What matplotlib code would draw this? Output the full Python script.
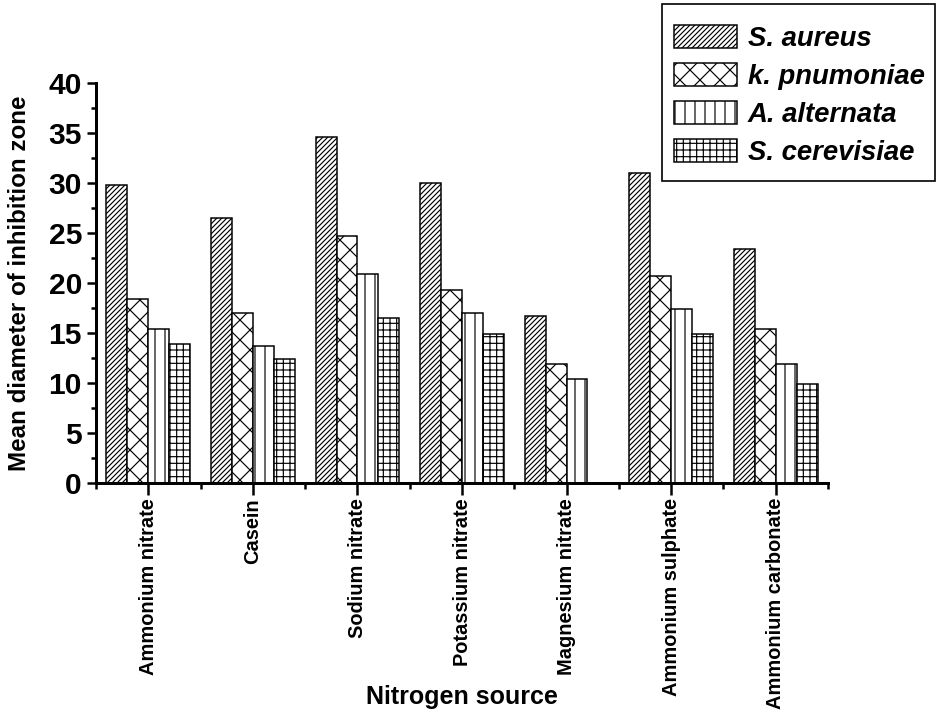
import numpy as np
import matplotlib
matplotlib.use('Agg')
import matplotlib.pyplot as plt
from matplotlib.patches import Rectangle
from matplotlib.ticker import MultipleLocator, FixedLocator

plt.rcParams['font.family'] = ['Liberation Sans', 'DejaVu Sans']
plt.rcParams['font.weight'] = 'bold'
plt.rcParams['hatch.linewidth'] = 0.7

# data
sources = ['Ammonium nitrate', 'Casein', 'Sodium nitrate', 'Potassium nitrate',
           'Magnesium nitrate', 'Ammonium sulphate', 'Ammonium carbonate']
s_aureus = [29.8, 26.5, 34.6, 30.0, 16.7, 31.0, 23.4]
k_pnumoniae = [18.4, 17.0, 24.7, 19.25, 11.9, 20.7, 15.4]
a_alternata = [15.4, 13.7, 20.9, 17.0, 10.4, 17.4, 11.9]
s_cerevisiae = [13.9, 12.4, 16.45, 14.9, 0, 14.9, 9.9]

series = [('S. aureus', s_aureus, '////////'),
          ('k. pnumoniae', k_pnumoniae, 'xx'),
          ('A. alternata', a_alternata, '||'),
          ('S. cerevisiae', s_cerevisiae, '+++')]

W, H = 936, 717
fig = plt.figure(figsize=(W / 120, H / 120), dpi=120)
ax = fig.add_axes([96 / W, 1 - 483 / H, 732 / W, 400.3 / H])

x = np.arange(len(sources))
width = 0.2
for i, (name, vals, hatch) in enumerate(series):
    ax.bar(x + (i - 1.5) * width, vals, width, color='white', edgecolor='black',
           hatch=hatch, linewidth=0.9, label=name)

ax.set_xlim(-0.5, len(sources) - 0.5)
ax.set_ylim(0, 40)

for side in ['top', 'right']:
    ax.spines[side].set_visible(False)
for side in ['left', 'bottom']:
    ax.spines[side].set_linewidth(1.8)

ax.yaxis.set_major_locator(MultipleLocator(5))
ax.yaxis.set_minor_locator(MultipleLocator(2.5))
ax.set_xticks(x)
ax.set_xticklabels(sources, rotation=90, fontsize=12, fontweight='bold')
ax.xaxis.set_minor_locator(FixedLocator(np.arange(-0.5, len(sources), 1.0)))
ax.tick_params(axis='y', which='major', length=5.4, width=1.5, labelsize=18, pad=3)
ax.tick_params(axis='y', which='minor', length=3, width=1.5)
ax.tick_params(axis='x', which='major', length=7, width=1.5, pad=2)
ax.tick_params(axis='x', which='minor', length=3.5, width=1.5)
for lab in ax.get_yticklabels():
    lab.set_fontweight('bold')

ax.set_ylabel('Mean diameter of inhibition zone', fontsize=14.5, fontweight='bold')
ax.yaxis.set_label_coords((31 - 96) / 732, 0.5)
fig.text((96 + 366) / W, 1 - 697 / H, 'Nitrogen source', fontsize=15,
         fontweight='bold', ha='center', va='center')

# legend without its own frame; the frame is drawn as a box in figure space
leg = ax.legend(loc='upper left', bbox_to_anchor=(674 / W, 1 - 25 / H),
                bbox_transform=fig.transFigure, frameon=False,
                borderaxespad=0, borderpad=0, handlelength=2.3,
                handleheight=0.9, handletextpad=0.38, labelspacing=0.4,
                prop={'size': 16.5, 'weight': 'bold', 'style': 'italic'})
fig.patches.append(Rectangle((662 / W, 1 - 181 / H), 273 / W, 177 / H,
                             transform=fig.transFigure, facecolor='none',
                             edgecolor='black', linewidth=1.0, zorder=5))

fig.savefig('out.png', dpi=120)
